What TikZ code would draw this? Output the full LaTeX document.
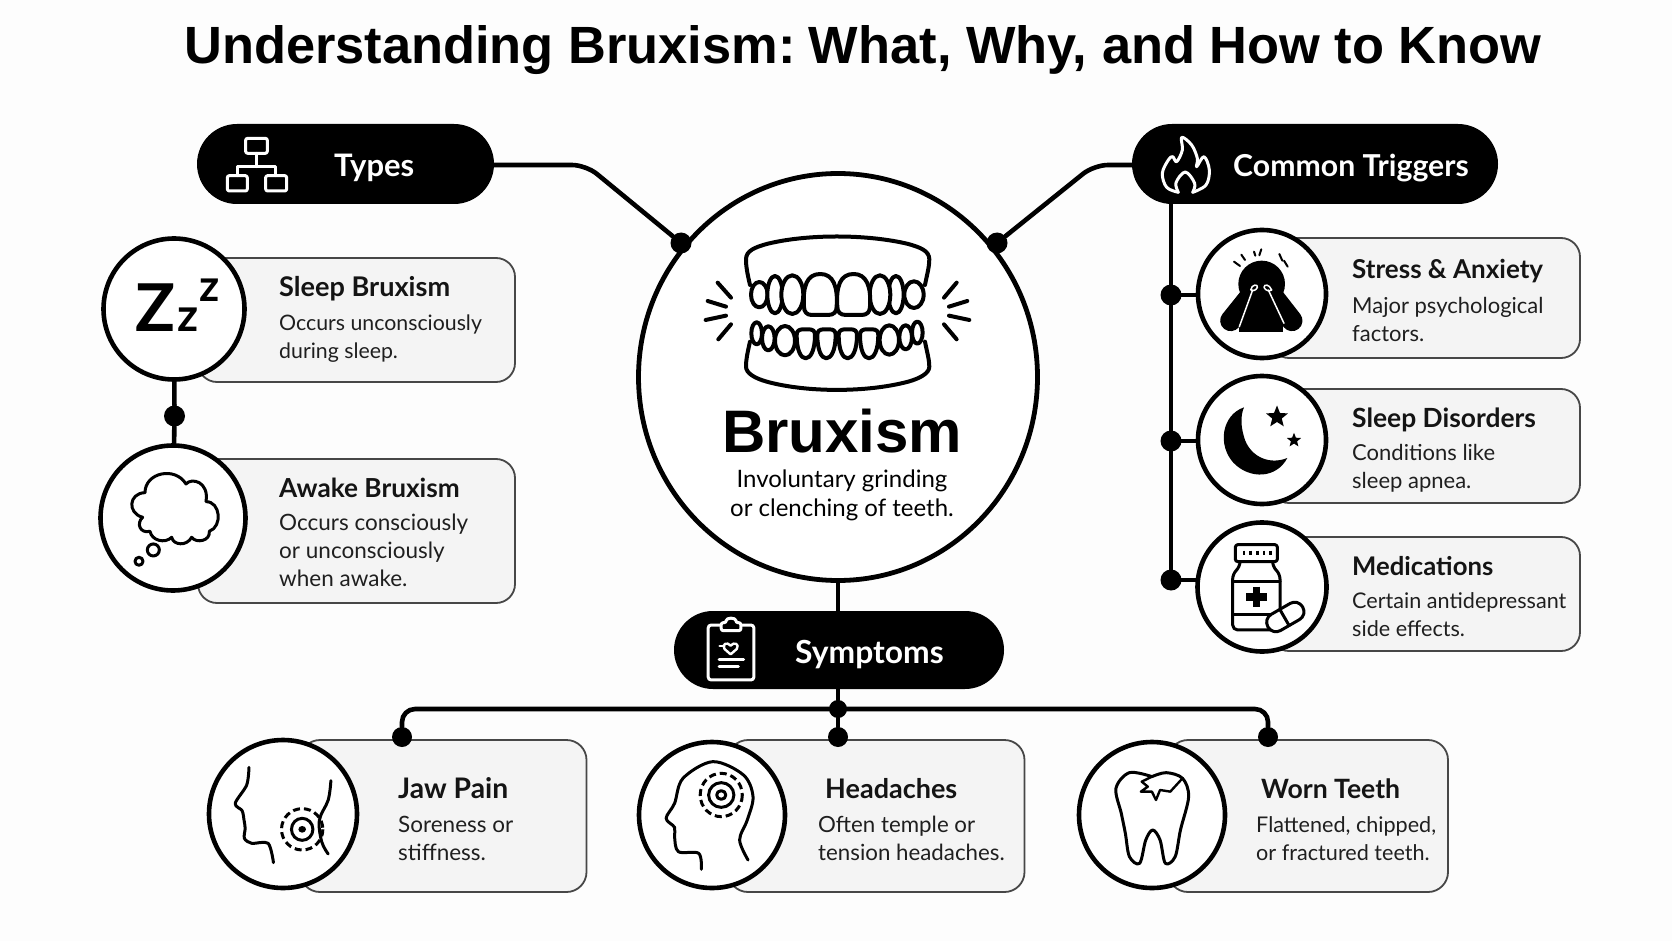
\documentclass[tikz,border=0pt]{standalone}
\usepackage{fontspec}
\setmainfont{Lato}
\newfontfamily\headfont{Liberation Sans}
\usetikzlibrary{shapes.geometric,calc}
\newcommand{\twolines}[2]{\vtop{\hbox{#1}\hbox{#2}}}
\newcommand{\threelines}[3]{\vtop{\hbox{#1}\hbox{#2}\hbox{#3}}}
\tikzset{
  ink/.style={draw=black,line width=4pt,line cap=round,line join=round},
  thinink/.style={draw=black,line width=3pt,line cap=round,line join=round},
  invline/.style={draw=white,line width=3pt,line cap=round,line join=round},
  link/.style={draw=black,line width=4.6pt,line cap=round,line join=round},
  card/.style={draw=black!72,line width=1.8pt,fill=black!4.5,rounded corners=19pt},
  iconring/.style={circle,draw=black,line width=4.6pt,fill=white,inner sep=0pt,minimum size=#1},
  hub/.style={circle,fill=black,inner sep=0pt,minimum size=#1},
  pilltext/.style={text=white,anchor=base west,inner sep=0pt,font=\fontsize{#1}{36}\selectfont\bfseries},
  cardhead/.style={anchor=base west,inner sep=0pt,text=black!92,font=\fontsize{#1}{30}\selectfont\bfseries},
  cardbody/.style={anchor=base west,inner sep=0pt,text=black!88,font=\fontsize{#1}{28}\selectfont},
  cardbody/.default=22,
  starshape/.style={star,star points=5,star point ratio=2.3,fill=black,inner sep=0pt,minimum size=#1},
}
\begin{document}
\begin{tikzpicture}[x=1pt,y=-1pt]
\useasboundingbox (0,0) rectangle (1672,941);
\fill[black!0.8] (0,0) rectangle (1672,941);

\node[anchor=base west,inner sep=0pt,font=\headfont\fontsize{52.4}{60}\selectfont\bfseries] (title) at (184,64) {Understanding Bruxism:\kern-6pt{} What, Why, and How to Know};

% central ring and the two hubs on its rim
\node[ellipse,draw=black,line width=4.8pt,fill=white,inner sep=0pt,minimum width=399pt,minimum height=407pt] (main) at (838,377) {};
\node[hub=21pt] (dotL) at (681,243) {};
\node[hub=21pt] (dotR) at (997,243) {};

\coordinate (typesEnd) at (494,165);
\coordinate (trigEnd) at (1132,165);
\draw[link,rounded corners=14pt] (typesEnd) -- (586,165) -- (dotL);
\draw[link,rounded corners=14pt] (trigEnd) -- (1094,165) -- (dotR);

% pills
\fill[black,rounded corners=40pt] (197,124) rectangle (494,204);
\fill[black,rounded corners=40pt] (1132,124) rectangle (1498,204);
\fill[black,rounded corners=39pt] (674,611) rectangle (1004,689);
\node[pilltext=31] (types) at (334,177) {Types};
\node[pilltext=30.2] (triggers) at (1233,177) {Common Triggers};
\node[pilltext=31.8] (symptoms) at (795,663.5) {Symptoms};

% central text
\node[anchor=base west,inner sep=0pt,font=\headfont\fontsize{60}{70}\selectfont\bfseries] (brux) at (722,452) {Bruxism};
\node[anchor=base,inner sep=0pt,font=\fontsize{24}{29}\selectfont] (bruxdef) at (842,487) {\vtop{\hbox to 0pt{\hss Involuntary grinding\hss}\hbox to 0pt{\hss or clenching of teeth.\hss}}};

% teeth in the central ring
\begin{scope}[shift={(640,160)},x=0.3333pt,y=-0.3333pt]
  \draw[ink,fill=white] (330,375) .. controls (322,340) and (318,320) .. (318,298) .. controls (318,272) and (345,262) .. (380,252) .. controls (500,222) and (680,222) .. (805,252) .. controls (840,262) and (868,272) .. (868,298) .. controls (868,320) and (862,340) .. (855,375);
  \foreach \cx/\rx/\ry in {358/25/38,822/29/40,405/23/56,768/23/56,457/33/58,720/31/58}
    \draw[ink,fill=white] (\cx,404) ellipse [x radius=\rx,y radius=\ry];
  \draw[ink,fill=white] (492,440) .. controls (488,380) and (500,342) .. (541,342) .. controls (580,342) and (594,380) .. (590,440) .. controls (590,455) and (582,465) .. (565,465) -- (515,465) .. controls (500,465) and (492,455) .. (492,440) -- cycle;
  \draw[ink,fill=white] (592,440) .. controls (588,380) and (600,342) .. (641,342) .. controls (680,342) and (694,380) .. (690,440) .. controls (690,455) and (682,465) .. (665,465) -- (617,465) .. controls (600,465) and (592,455) .. (592,440) -- cycle;

  \draw[ink,fill=white] (330,545) .. controls (322,580) and (318,600) .. (318,620) .. controls (318,640) and (345,655) .. (380,665) .. controls (500,698) and (680,698) .. (805,665) .. controls (840,655) and (868,640) .. (868,620) .. controls (868,600) and (862,580) .. (855,545);
  \foreach \cx/\cy/\rx/\ry in {350/520/16/33,832/518/16/33,385/535/19/36,797/532/19/36,435/542/30/44,748/540/29/44}
    \draw[ink,fill=white] (\cx,\cy) ellipse [x radius=\rx,y radius=\ry];
  \foreach \lx in {470,532,596,660}
    \draw[ink,fill=white] (\lx,525) .. controls (\lx,512) and (\lx+8,508) .. (\lx+20,508) -- (\lx+35,508) .. controls (\lx+48,508) and (\lx+55,512) .. (\lx+55,525) .. controls (\lx+55,570) and (\lx+42,595) .. (\lx+27,595) .. controls (\lx+12,595) and (\lx,570) .. (\lx,525) -- cycle;

  \draw[ink] (233,368) -- (273,413);
  \draw[ink] (203,423) -- (258,440);
  \draw[ink] (197,480) -- (258,467);
  \draw[ink] (235,538) -- (273,493);
  \draw[ink] (950,368) -- (912,413);
  \draw[ink] (982,423) -- (927,440);
  \draw[ink] (988,480) -- (927,467);
  \draw[ink] (950,538) -- (912,493);
\end{scope}

% network glyph inside the Types pill
\begin{scope}[shift={(90,110)},x=0.3333pt,y=-0.3333pt]
  \draw[invline,rounded corners=2pt] (467,85) rectangle (532,130);
  \draw[invline,rounded corners=2pt] (412,197) rectangle (472,243);
  \draw[invline,rounded corners=2pt] (527,197) rectangle (590,243);
  \draw[invline] (500,130) -- (500,170);
  \draw[invline] (442,197) -- (442,170) -- (558,170) -- (558,197);
\end{scope}

% flame glyph inside the Common Triggers pill
\begin{scope}[shift={(1120,110)},x=0.3333pt,y=-0.3333pt]
  \draw[invline] plot[smooth,tension=0.6] coordinates {(175,247) (140,232) (127,190) (145,150) (158,140) (170,155) (187,120) (185,82) (215,105) (232,145) (230,170) (252,140) (268,180) (258,225) (218,247)};
  \draw[invline] plot[smooth,tension=0.6] coordinates {(175,247) (168,218) (196,186) (224,220) (218,247)};
\end{scope}

% clipboard glyph inside the Symptoms pill
\begin{scope}[shift={(660,600)},x=0.4082pt,y=-0.3333pt]
  \draw[invline,rounded corners=3pt] (118,75) rectangle (230,240);
  \draw[invline,fill=black,rounded corners=2pt] (150,68) -- (162,68) .. controls (162,52) and (186,52) .. (186,68) -- (198,68) -- (198,92) -- (150,92) -- cycle;
  \draw[invline,line width=2.4pt] (173,137) .. controls (165,124) and (150,132) .. (158,147) -- (173,163) -- (188,147) .. controls (196,132) and (181,124) .. (173,137) -- cycle;
  \draw[invline,line width=2.4pt] (146,138) -- (158,138);
  \draw[invline] (145,178) -- (205,178);
  \draw[invline] (145,200) -- (192,200);
\end{scope}

% Types column
\path[card] (198,258) rectangle (515,382);
\path[card] (198,459) rectangle (515,603);
\node[iconring=141pt] (sleepRing) at (174,309) {};
\node[iconring=145pt] (awakeRing) at (173,518) {};
\node[hub=21pt] (dotTypes) at (174.5,416) {};
\draw[link] (sleepRing) -- (dotTypes);
\draw[link] (dotTypes) -- (awakeRing);
\node[cardhead=27.1] (sleepHead) at (279,296) {Sleep Bruxism};
\node[cardbody=21.3] (sleepBody) at (279,330) {\twolines{Occurs unconsciously}{during sleep.}};
\node[cardhead=26.2] (awakeHead) at (279,497) {Awake Bruxism};
\node[cardbody=22.5] (awakeBody) at (279,530) {\threelines{Occurs consciously}{or unconsciously}{when awake.}};

% sleeping letters
\node[anchor=base west,inner sep=0pt,font=\fontsize{66}{70}\selectfont\bfseries] (bigZ) at (135,331) {Z};
\node[anchor=base west,inner sep=0pt,font=\fontsize{46}{50}\selectfont\bfseries] (midZ) at (177,331) {z};
\node[anchor=base west,inner sep=0pt,font=\fontsize{44}{50}\selectfont\bfseries] (topZ) at (199,301) {z};

% thought cloud
\begin{scope}[shift={(90,110)},x=0.3333pt,y=-0.3333pt]
  \draw[thinink] (165,1148) .. controls (165,1088) and (255,1068) .. (288,1122) .. controls (305,1102) and (358,1115) .. (348,1175) .. controls (392,1175) and (398,1250) .. (358,1264) .. controls (362,1292) and (320,1302) .. (305,1282) .. controls (290,1310) and (250,1306) .. (245,1282) .. controls (225,1302) and (185,1292) .. (180,1264) .. controls (150,1272) and (138,1240) .. (158,1222) .. controls (112,1210) and (115,1150) .. (165,1148) -- cycle;
  \draw[thinink] (190,1320) circle [radius=18];
  \draw[thinink] (147,1354) circle [radius=12];
\end{scope}

% Triggers column
\draw[link] (1171,204) -- (1171,580);
\path[card] (1270,238) rectangle (1580,358);
\path[card] (1270,389) rectangle (1580,503);
\path[card] (1270,537) rectangle (1580,651);
\node[iconring=128pt] (stressRing) at (1262,294) {};
\node[iconring=128pt] (disorderRing) at (1262,440) {};
\node[iconring=129pt] (medRing) at (1262,587) {};
\node[hub=21pt] (dotA) at (1171,295) {};
\node[hub=21pt] (dotB) at (1171,441) {};
\node[hub=21pt] (dotC) at (1171,580) {};
\draw[link] (dotA) -- (stressRing.west |- dotA);
\draw[link] (dotB) -- (disorderRing.west |- dotB);
\draw[link] (dotC) -- (medRing.west |- dotC);
\node[cardhead=26] (stressHead) at (1352,279) {Stress \& Anxiety};
\node[cardbody] (stressBody) at (1352,313) {\twolines{Major psychological}{factors.}};
\node[cardhead=26.4] (disorderHead) at (1352,427) {Sleep Disorders};
\node[cardbody] (disorderBody) at (1352,460) {\twolines{Conditions like}{sleep apnea.}};
\node[cardhead=25.7] (medHead) at (1352,575) {Medications};
\node[cardbody=21.6] (medBody) at (1352,608) {\twolines{Certain antidepressant}{side effects.}};

% distressed figure
\begin{scope}[shift={(1120,110)},x=0.3333pt,y=-0.3333pt]
  \fill[black] (425,522) circle [radius=70];
  \fill[black] (358,665) -- (358,580) -- (490,580) -- (490,665) -- cycle;
  \draw[black,line width=21pt,line cap=round] (398,550) -- (332,632);
  \draw[black,line width=21pt,line cap=round] (452,550) -- (516,632);
  \draw[white,line width=1.5pt,line cap=round] (358,650) -- (398,540);
  \draw[white,line width=1.5pt,line cap=round] (492,640) -- (445,540);
  \draw[white,line width=1.5pt,line join=round] (392,540) .. controls (395,522) and (415,522) .. (412,532) .. controls (410,540) and (398,545) .. (392,540);
  \draw[white,line width=1.5pt,line join=round] (432,532) .. controls (432,522) and (448,522) .. (455,540) .. controls (448,545) and (436,542) .. (432,532);
  \foreach \ax/\ay/\bx/\by in {342/455/360/468,364/434/375/450,402/425/406/437,424/418/418/436,478/432/487/452,492/452/503/470}
    \draw[black,line width=2pt,line cap=round] (\ax,\ay) -- (\bx,\by);
\end{scope}

% crescent moon with two stars
\begin{scope}[shift={(1160,370)},x=0.3333pt,y=-0.3333pt]
  \fill[black] (252,112) .. controls (185,135) and (172,225) .. (220,278) .. controls (270,330) and (350,325) .. (382,264) .. controls (330,285) and (275,262) .. (255,210) .. controls (243,175) and (240,140) .. (252,112) -- cycle;
  \node[starshape=23pt] (starBig) at (351,141) {};
  \node[starshape=15pt] (starSmall) at (402,211) {};
\end{scope}

% medicine bottle and capsule
\begin{scope}[shift={(1160,370)},x=0.3333pt,y=-0.3333pt]
  \draw[thinink,rounded corners=2.5pt] (226,524) rectangle (352,575);
  \foreach \tx in {252,272,292,312,332}
    \draw[black,line width=2.6pt] (\tx,542) -- (\tx,556);
  \draw[thinink,rounded corners=5pt] (240,575) -- (240,590) -- (218,612) -- (218,780) -- (360,780) -- (360,612) -- (338,590) -- (338,575);
  \draw[thinink] (218,635) -- (360,635);
  \draw[thinink] (218,735) -- (360,735);
  \draw[black,line width=7.5pt] (290,650) -- (290,712);
  \draw[black,line width=7.5pt] (258,681) -- (322,681);
  \begin{scope}[shift={(376,741)},rotate=30]
    \draw[thinink,fill=white,rounded corners=9pt] (-60,-28) rectangle (60,28);
    \draw[thinink] (-3,-28) -- (-3,28);
  \end{scope}
\end{scope}

% Symptoms branch: cards first, so the links and hubs lie on their top edges
\path[card,rounded corners=20pt] (300,740) rectangle (586.5,892);
\path[card,rounded corners=20pt] (728,740) rectangle (1024.5,892);
\path[card,rounded corners=20pt] (1168,740) rectangle (1448,892);
\node[hub=18pt] (dotMid) at (838,709) {};
\node[hub=20pt] (dotJaw) at (402,737) {};
\node[hub=20pt] (dotHead) at (838,737) {};
\node[hub=20pt] (dotTooth) at (1268,737) {};
\draw[link] (main.south) -- (838,611);
\draw[link] (838,689) -- (dotMid);
\draw[link] (dotMid) -- (dotHead);
\draw[link,rounded corners=13pt] (dotJaw) -- (402,709) -- (1268,709) -- (dotTooth);

\node[iconring=148pt] (jawRing) at (283,814) {};
\node[iconring=146pt] (headRing) at (712,815) {};
\node[iconring=146pt] (toothRing) at (1152,815) {};
\node[cardhead=28.3] (jawHead) at (398,798.5) {Jaw Pain};
\node[cardbody=22.5] (jawBody) at (398,832) {\twolines{Soreness or}{stiffness.}};
\node[cardhead=27] (headHead) at (825,798.5) {Headaches};
\node[cardbody=22.3] (headBody) at (818,832) {\twolines{Often temple or}{tension headaches.}};
\node[cardhead=26.6] (toothHead) at (1261,798.5) {Worn Teeth};
\node[cardbody=21.6] (toothBody) at (1256,832) {\twolines{Flattened, chipped,}{or fractured teeth.}};

% profile with pain rings at the jaw
\begin{scope}[shift={(200,720)},x=0.3827pt,y=-0.3333pt]
  \draw[thinink] plot[smooth,tension=0.5] coordinates {(128,142) (122,195) (92,250) (110,272) (115,300) (118,325) (116,355) (135,370) (178,370) (192,428)};
  \draw[thinink] plot[smooth,tension=0.6] coordinates {(342,182) (335,240) (312,300) (318,365) (335,402)};
  \fill[black] (267,328) ellipse [x radius=10,y radius=10];
  \draw[thinink] (267,328) ellipse [x radius=28,y radius=33];
  \draw[thinink,line cap=butt,dash pattern=on 7pt off 4pt] (267,328) ellipse [x radius=54,y radius=62];
\end{scope}

% head with pain rings at the temple
\begin{scope}[shift={(200,720)},x=0.3827pt,y=-0.3333pt]
  \draw[thinink] plot[smooth,tension=0.55] coordinates {(1310,448) (1303,400) (1250,395) (1240,350) (1240,322) (1218,295) (1240,250) (1262,175) (1340,125) (1420,165) (1445,230) (1430,300) (1410,360) (1432,420)};
  \draw[thinink] (1362,225) ellipse [x radius=12,y radius=13];
  \draw[thinink] (1362,225) ellipse [x radius=33,y radius=37];
  \draw[thinink,line cap=butt,dash pattern=on 7pt off 4pt] (1362,225) ellipse [x radius=55,y radius=65];
\end{scope}

% cracked molar
\begin{scope}[shift={(660,600)},x=0.4082pt,y=-0.3333pt]
  \draw[thinink] plot[smooth,tension=0.55] coordinates {(1205,530) (1150,518) (1117,565) (1130,640) (1140,700) (1150,770) (1175,790) (1190,720) (1207,690) (1225,720) (1238,790) (1262,770) (1275,690) (1295,590) (1280,535) (1240,518) (1205,530)};
  \draw[thinink,line width=2.4pt] (1280,535) -- (1250,575) -- (1225,570) -- (1215,600) -- (1205,575) -- (1178,575) -- (1195,560) -- (1180,545) -- (1205,530);
\end{scope}
\end{tikzpicture}
\end{document}
